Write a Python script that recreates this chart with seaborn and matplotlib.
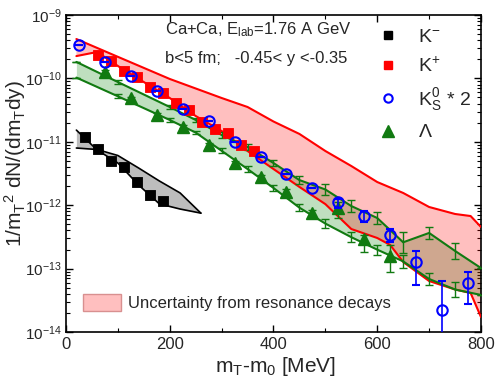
import numpy as np
import matplotlib
matplotlib.use("Agg")
import matplotlib.pyplot as plt
from matplotlib.lines import Line2D
from matplotlib.patches import Patch
from matplotlib.ticker import MultipleLocator, LogLocator, NullFormatter
import seaborn as sns

# K- data (black squares)
km_mt = [37.5, 62.5, 87.5, 112.5, 137.5, 162.5, 187.5]
km_y = [1.19e-11, 7.8e-12, 5.0e-12, 3.96e-12, 2.3e-12, 1.45e-12, 1.16e-12]

# K+ data (red squares)
kp_mt = [62.5, 87.5, 112.5, 137.5, 162.5, 187.5, 212.5, 237.5, 262.5, 287.5, 312.5, 337.5, 362.5]
kp_y = [2.30e-10, 1.85e-10, 1.33e-10, 1.04e-10, 7.3e-11, 5.82e-11, 4.09e-11, 3.12e-11,
        2.08e-11, 1.57e-11, 1.36e-11, 8.9e-12, 7.16e-12]

# K0s * 2 (blue open circles), with lower / upper ends of the error bars
k0_mt = [25, 75, 125, 175, 225, 275, 325, 375, 425, 475, 525, 575, 625, 675, 725, 775]
k0_y = [3.37e-10, 1.83e-10, 1.09e-10, 6.32e-11, 3.29e-11, 2.13e-11, 1.00e-11, 5.7e-12,
        3.07e-12, 1.85e-12, 1.11e-12, 6.76e-13, 3.39e-13, 1.26e-13, 2.22e-14, 5.86e-14]
k0_lo = [3.37e-10, 1.83e-10, 1.09e-10, 6.32e-11, 3.29e-11, 2.13e-11, 1.00e-11, 5.7e-12,
         3.07e-12, 1.85e-12, 8.9e-13, 5.5e-13, 2.66e-13, 5.5e-14, 5e-15, 2.74e-14]
k0_hi = [3.37e-10, 1.83e-10, 1.09e-10, 6.32e-11, 3.29e-11, 2.13e-11, 1.00e-11, 5.7e-12,
         3.07e-12, 1.85e-12, 1.24e-12, 8.1e-13, 4.17e-13, 1.91e-13, 6.37e-14, 8.93e-14]

# Lambda (green triangles)
lam_mt = [75, 125, 175, 225, 275, 325, 375, 425, 475, 525, 575, 625]
lam_y = [1.28e-10, 4.85e-11, 2.65e-11, 1.73e-11, 8.9e-12, 4.58e-12, 2.79e-12, 1.63e-12,
         7.53e-13, 9.04e-13, 2.93e-13, 1.58e-13]
lam_lo = [1.22e-10, 4.6e-11, 2.5e-11, 1.63e-11, 8.3e-12, 4.2e-12, 2.55e-12, 1.45e-12,
          6.6e-13, 6.2e-13, 1.85e-13, 8.75e-14]
lam_hi = [1.34e-10, 5.1e-11, 2.8e-11, 1.83e-11, 9.5e-12, 5.0e-12, 3.05e-12, 1.8e-12,
          8.5e-13, 1.135e-12, 3.39e-13, 2.36e-13]

# K- model band
kmb_mt = [20, 60, 100, 140, 180, 220, 260]
kmb_a = [1.53e-11, 7.43e-12, 4.63e-12, 2.08e-12, 1.05e-12, 8.7e-13, 7.5e-13]
kmb_b = [7.98e-12, 7.56e-12, 6.08e-12, 3.86e-12, 2.41e-12, 1.56e-12, 7.5e-13]

# red band: uncertainty from resonance decays
r1_mt = [20, 100, 200, 300, 350, 400, 450, 500, 550, 600, 650, 700, 750, 780, 800]
r1_y = [4.18e-10, 2.19e-10, 9.8e-11, 4.91e-11, 3.54e-11, 2.09e-11, 1.33e-11, 7.16e-12,
        4.15e-12, 2.32e-12, 1.56e-12, 9.37e-13, 7.27e-13, 6.75e-13, 4.53e-13]
r2_mt = [20, 60, 100, 150, 200, 250, 300, 350, 400, 450, 500, 550, 600, 625, 650, 700, 750, 780, 800]
r2_y = [2.25e-10, 2.61e-10, 1.57e-10, 8.77e-11, 4.91e-11, 2.55e-11, 1.48e-11, 7.16e-12,
        3.72e-12, 1.94e-12, 1.04e-12, 4.21e-13, 3.04e-13, 2.36e-13, 1.27e-13, 6.37e-14,
        4.68e-14, 4.12e-14, 1.72e-14]

# green band
g_mt = [20, 100, 200, 250, 300, 350, 400, 450, 500, 550, 600, 650, 700, 750, 800]
g1_y = [1.82e-10, 8.77e-11, 3.54e-11, 2.21e-11, 1.28e-11, 8.28e-12, 4.63e-12, 2.49e-12,
        1.77e-12, 9.7e-13, 6.28e-13, 2.6e-13, 3.65e-13, 1.90e-13, 1.02e-13]
g2_y = [1.03e-10, 5.22e-11, 2.21e-11, 1.40e-11, 7.21e-12, 3.72e-12, 1.87e-12, 9.14e-13,
        5.13e-13, 3.13e-13, 1.99e-13, 1.30e-13, 6.86e-14, 4.68e-14, 3.84e-14]
# error bar size on the green lines (decades)
g1_err = [0, 0.03, 0.03, 0.03, 0.04, 0.05, 0.05, 0.06, 0.08, 0.09, 0.1, 0.17, 0.1, 0.13, 0]
g2_err = [0, 0.03, 0.03, 0.03, 0.04, 0.05, 0.05, 0.06, 0.07, 0.08, 0.08, 0.1, 0.095, 0.12, 0]

sns.set_style("ticks")
plt.rcParams['font.family'] = ['Liberation Sans', 'DejaVu Sans']
plt.rcParams['mathtext.default'] = 'regular'

fig, ax = plt.subplots(figsize=(4.97, 3.8), dpi=100)
fig.subplots_adjust(left=0.1328, right=0.9678, top=0.9605, bottom=0.1263)

green = '#117a11'

# green band
ax.fill_between(g_mt, g1_y, g2_y, color='green', alpha=0.25, lw=0, zorder=1)
# red band
ax.fill(np.concatenate([r1_mt, r2_mt[::-1]]), np.concatenate([r1_y, r2_y[::-1]]),
        color='red', alpha=0.25, lw=0, zorder=2)
# K- band
ax.fill_between(kmb_mt, kmb_a, kmb_b, color='#bdbdbd', lw=0, zorder=2)

sns.lineplot(x=kmb_mt, y=kmb_a, color='black', lw=1.2, ax=ax, zorder=3)
sns.lineplot(x=kmb_mt, y=kmb_b, color='black', lw=1.2, ax=ax, zorder=3)
sns.lineplot(x=r1_mt, y=r1_y, color='red', lw=1.5, ax=ax, zorder=3)
sns.lineplot(x=r2_mt, y=r2_y, color='red', lw=1.5, ax=ax, zorder=3)
sns.lineplot(x=g_mt, y=g1_y, color=green, lw=1.5, ax=ax, zorder=3)
sns.lineplot(x=g_mt, y=g2_y, color=green, lw=1.5, ax=ax, zorder=3)

for gy, ge in [(g1_y, g1_err), (g2_y, g2_err)]:
    gy = np.array(gy)
    ge = np.array(ge)
    ax.errorbar(g_mt, gy, yerr=[gy - gy * 10 ** -ge, gy * 10 ** ge - gy], fmt='none',
                ecolor=green, elinewidth=1, capsize=3, capthick=1, zorder=3)

# data points
sns.scatterplot(x=km_mt, y=km_y, marker='s', color='black', edgecolor='black', s=60, ax=ax, zorder=5)
sns.scatterplot(x=kp_mt, y=kp_y, marker='s', color='red', edgecolor='red', s=60, ax=ax, zorder=5)

lam_y_a = np.array(lam_y)
ax.errorbar(lam_mt, lam_y, yerr=[lam_y_a - np.array(lam_lo), np.array(lam_hi) - lam_y_a],
            fmt='^', color=green, ms=8.5, elinewidth=1, capsize=3, zorder=6)

k0_y_a = np.array(k0_y)
ax.errorbar(k0_mt, k0_y, yerr=[k0_y_a - np.array(k0_lo), np.array(k0_hi) - k0_y_a],
            fmt='o', color='blue', mfc='none', mec='blue', mew=1.5, ms=7.5,
            elinewidth=1.2, capsize=3, zorder=7)

ax.set_yscale('log')
ax.set_xlim(0, 800)
ax.set_ylim(1e-14, 1e-9)
ax.xaxis.set_major_locator(MultipleLocator(200))
ax.xaxis.set_minor_locator(MultipleLocator(100))
ax.yaxis.set_minor_locator(LogLocator(base=10, subs=np.arange(2, 10)))
ax.yaxis.set_minor_formatter(NullFormatter())
ax.tick_params(which='both', direction='in', top=True, right=True, color='black')
ax.tick_params(axis='x', labelsize=12)
ax.tick_params(axis='y', labelsize=11, pad=3)
ax.tick_params(which='major', length=5, width=1)
ax.tick_params(which='minor', length=3, width=0.8)
for sp in ax.spines.values():
    sp.set_linewidth(1.2)
    sp.set_color('black')

ax.set_xlabel('m$_T$-m$_0$ [MeV]', fontsize=15)
ax.xaxis.set_label_coords(0.504, -0.125)
ax.xaxis.label.set_va('baseline')
ax.set_ylabel('1/m$_T$$^2$ dN/(dm$_T$dy)', fontsize=15)
ax.yaxis.set_label_coords(-0.092, 0.53)

ax.text(0.239, 0.953, 'Ca+Ca, E$_{lab}$=1.76 A GeV', transform=ax.transAxes,
        fontsize=12, ha='left', va='center')
ax.text(0.239, 0.864, 'b<5 fm;   -0.45< y <-0.35', transform=ax.transAxes,
        fontsize=12, ha='left', va='center')

handles = [
    Line2D([], [], ls='none', marker='s', color='black', ms=6),
    Line2D([], [], ls='none', marker='s', color='red', ms=6),
    Line2D([], [], ls='none', marker='o', mfc='none', mec='blue', mew=1.5, ms=6),
    Line2D([], [], ls='none', marker='^', color=green, ms=8),
]
labels = ['K$^{-}$', 'K$^{+}$', 'K$^0_S$ * 2', '$\\Lambda$']
leg1 = ax.legend(handles, labels, loc='upper left', bbox_to_anchor=(0.73, 0.99),
                 frameon=False, fontsize=14, handlelength=1.0, handletextpad=1.0,
                 labelspacing=0.55, borderpad=0)
ax.add_artist(leg1)

ax.legend([Patch(facecolor='#ffbfbf', edgecolor='#d89090', lw=1)],
          ['Uncertainty from resonance decays'], loc='lower left',
          bbox_to_anchor=(0.02, 0.04), frameon=False, fontsize=12,
          handlelength=2.3, handleheight=1.2, handletextpad=0.45, borderpad=0)

plt.savefig('out.png', dpi=100)
